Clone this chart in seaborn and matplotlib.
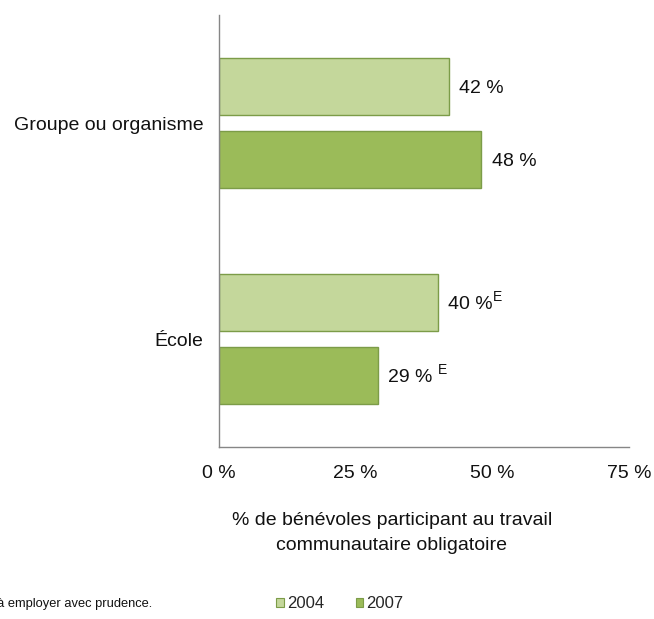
import matplotlib
matplotlib.use("Agg")
import matplotlib.pyplot as plt
import seaborn as sns
import pandas as pd
from matplotlib.patches import Patch

# Data
categories = ["Groupe ou organisme", "École"]
years = ["2004", "2007"]
values_2004 = [42, 40]
values_2007 = [48, 29]
labels_2004 = ["42 %", "40 %"]
labels_2007 = ["48 %", "29 % "]
flags_2004 = ["", "E"]
flags_2007 = ["", "E"]
xticks = [0, 25, 50, 75]
xtick_labels = ["0 %", "25 %", "50 %", "75 %"]

colors = {"2004": "#C4D79B", "2007": "#9BBB59"}
edge = "#7C9C48"
axis_grey = "#868686"
ink = "#111111"

df = pd.DataFrame({
    "categorie": categories * 2,
    "annee": [years[0]] * 2 + [years[1]] * 2,
    "valeur": values_2004 + values_2007,
})

sns.set_theme(style="white")
plt.rcParams["font.family"] = ["Liberation Sans", "DejaVu Sans"]

fig = plt.figure(figsize=(6.54, 6.19), dpi=100)
ax = fig.add_axes([219 / 654, 1 - 447 / 619, 410 / 654, 432 / 619])

sns.barplot(data=df, y="categorie", x="valeur", hue="annee", order=categories,
            hue_order=years, palette=colors, saturation=1, orient="h",
            width=0.676, gap=0.22, edgecolor=edge, linewidth=1.0,
            legend=False, ax=ax)

ax.set_xlim(0, 75)
ax.set_ylim(1.5, -0.5)
ax.set_xticks(xticks)
ax.set_xticklabels(xtick_labels, fontsize=14, color=ink)
ax.tick_params(axis="x", length=5, width=1, color=axis_grey, pad=8, direction="out")
ax.tick_params(axis="y", length=0, pad=11, labelsize=14, labelcolor=ink)
ax.set_ylabel("")
ax.set_xlabel("")

for s in ("top", "right"):
    ax.spines[s].set_visible(False)
for s in ("left", "bottom"):
    ax.spines[s].set_color(axis_grey)
    ax.spines[s].set_linewidth(1.0)

# Value labels with optional quality flag as superscript
for cont, labels, flags in zip(ax.containers, [labels_2004, labels_2007], [flags_2004, flags_2007]):
    for bar, lab, flag in zip(cont, labels, flags):
        w = bar.get_width()
        yc = bar.get_y() + bar.get_height() / 2
        t = ax.annotate(lab, xy=(w, yc), xytext=(7.5, -1.5), textcoords="offset points",
                        ha="left", va="center", fontsize=14, color=ink)
        if flag:
            ax.annotate(flag, xy=(1, 1), xycoords=t, xytext=(0, -1),
                        textcoords="offset points", ha="left", va="center",
                        fontsize=10, color=ink)

# Axis title
fig.text(392 / 654, 1 - 533 / 619,
         "% de bénévoles participant au travail\ncommunautaire obligatoire",
         ha="center", va="center", fontsize=14, color=ink, linespacing=1.55)

# Footnote
fig.text(152 / 654, 1 - 604 / 619, "E à employer avec prudence.",
         ha="right", va="center", fontsize=9.3, color=ink)

# Legend
handles = [Patch(facecolor=colors[y], edgecolor=edge, linewidth=0.8, label=y) for y in years]
fig.legend(handles=handles, ncol=2, loc="center left",
           bbox_to_anchor=(276 / 654, 1 - 604 / 619), frameon=False,
           fontsize=12, handlelength=0.45, handleheight=0.45,
           handletextpad=0.2, columnspacing=1.9, borderpad=0, borderaxespad=0)

fig.savefig("out.png", dpi=100)
